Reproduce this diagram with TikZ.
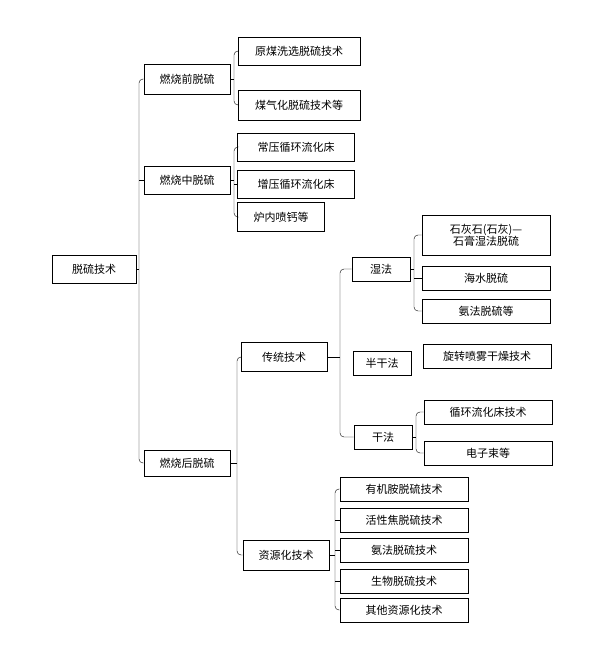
\documentclass[tikz,border=0pt]{standalone}
\usepackage{fontspec}
\setmainfont{Noto Sans CJK SC}
\tikzset{
  box/.style={draw, thick, inner sep=0pt, minimum height=24pt, font=\fontsize{11}{12}\selectfont, align=center},
  link/.style={thin, rounded corners=4pt}
}
\newcommand{\brk}[2]{% parent tick to bracket x
  \draw[link] (#1.east) -- (#2,0 |- #1.east);
}
\begin{document}
\begin{tikzpicture}[x=1pt, y=-1pt]
\useasboundingbox (0,0) rectangle (613,646);
% levels 0-1
\node[box, minimum width=84pt, minimum height=28pt] (root) at (94,269) {脱硫技术};
\node[box, minimum width=86pt, minimum height=30pt] (pre) at (187,79) {燃烧前脱硫};
\node[box, minimum width=86pt, minimum height=28pt] (mid) at (187,180) {燃烧中脱硫};
\node[box, minimum width=86pt, minimum height=26pt] (post) at (187,463) {燃烧后脱硫};
% pre / mid children
\node[box, minimum width=122pt, minimum height=28pt] (wash) at (299,51) {原煤洗选脱硫技术};
\node[box, minimum width=122pt, minimum height=30pt] (gas) at (299,105) {煤气化脱硫技术等};
\node[box, minimum width=117pt, minimum height=28pt] (atm) at (296,147) {常压循环流化床};
\node[box, minimum width=117pt, minimum height=28pt] (press) at (296,184) {增压循环流化床};
\node[box, minimum width=87pt, minimum height=29pt] (furn) at (281,217) {炉内喷钙等};
% post children
\node[box, minimum width=86pt, minimum height=29pt] (trad) at (284,357) {传统技术};
\node[box, minimum width=86pt, minimum height=30pt] (res) at (286,555) {资源化技术};
\node[box, minimum width=58pt] (wet) at (381,269) {湿法};
\node[box, minimum width=58pt] (semi) at (382,363) {半干法};
\node[box, minimum width=58pt] (dry) at (383,437) {干法};
\node[box, minimum width=128pt, minimum height=40pt] (lime) at (486,235) {石灰石(石灰)—\\石膏湿法脱硫};
\node[box, minimum width=128pt] (sea) at (486,278) {海水脱硫};
\node[box, minimum width=128pt] (amm) at (486,311) {氨法脱硫等};
\node[box, minimum width=128pt] (spray) at (487,356) {旋转喷雾干燥技术};
\node[box, minimum width=128pt] (cfb) at (488,412) {循环流化床技术};
\node[box, minimum width=128pt] (ebeam) at (488,453) {电子束等};
\foreach \y/\n/\t in {489/org/有机胺脱硫技术, 520/coke/活性焦脱硫技术, 550/ammr/氨法脱硫技术, 581/bio/生物脱硫技术, 610/other/其他资源化技术}
  \node[box, minimum width=128pt] (\n) at (404,\y) {\t};
% brackets
\draw[link] (pre.west) -| (139,269) |- (post.west);
\brk{root}{139}
\draw[link] (mid.west) -- (139,0 |- mid.west);
\draw[link] (wash.west) -| (234,79) |- (gas.west);
\brk{pre}{234}
\draw[link] (atm.west) -| (234,180) |- (furn.west);
\draw[link] (press.west) -- (234,0 |- press.west);
\brk{mid}{234}
\draw[link] (trad.west) -| (237,463) |- (res.west);
\brk{post}{237}
\draw[link] (wet.west) -| (340,357) |- (dry.west);
\brk{trad}{340}
\draw[link] (lime.west) -| (414,269) |- (amm.west);
\draw[link] (sea.west) -- (414,0 |- sea.west);
\brk{wet}{414}
\draw[link] (cfb.west) -| (416,437) |- (ebeam.west);
\brk{dry}{416}
\draw[link] (org.west) -| (335,555) |- (other.west);
\foreach \n in {coke,ammr,bio}
  \draw[link] (\n.west) -- (335,0 |- \n.west);
\brk{res}{335}
\end{tikzpicture}
\end{document}
